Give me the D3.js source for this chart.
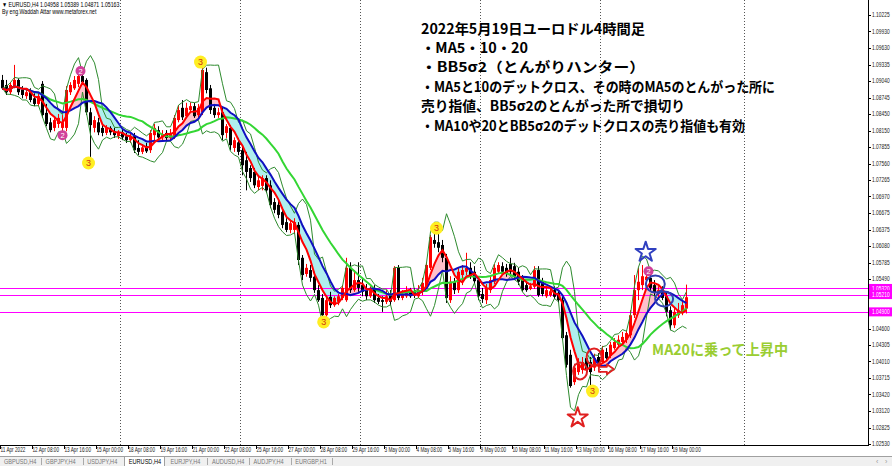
<!DOCTYPE html>
<html><head><meta charset="utf-8">
<script src="https://cdn.jsdelivr.net/npm/d3@7"></script>
<style>body{margin:0;background:#fff;}svg{display:block;}</style>
</head><body><svg id="c" width="892" height="466"></svg>
<script>
// ---------------- DATA (EURUSD H4, 11 Apr 2022 - 19 May 2022) ----------------
const open = [
1.0906,1.0897,1.0884,1.0895,1.0906,1.0888,1.0877,1.0884,1.0873,1.0863,
1.0899,1.0847,1.0830,1.0820,1.0827,1.0820,1.0820,1.0884,1.0891,1.0899,
1.0913,1.0906,1.0848,1.0820,1.0830,1.0820,1.0811,1.0820,1.0814,1.0805,
1.0812,1.0805,1.0798,1.0805,1.0784,1.0777,1.0787,1.0780,1.0807,1.0816,
1.0803,1.0811,1.0802,1.0805,1.0834,1.0856,1.0841,1.0852,1.0859,1.0843,
1.0848,1.0920,1.0891,1.0856,1.0843,1.0848,1.0811,1.0820,1.0784,1.0794,
1.0780,1.0762,1.0748,1.0741,1.0714,1.0716,1.0730,1.0717,1.0687,1.0682,
1.0669,1.0651,1.0637,1.0637,1.0646,1.0587,1.0558,1.0565,1.0553,1.0529,
1.0515,1.0484,1.0517,1.0502,1.0508,1.0515,1.0511,1.0569,1.0529,1.0547,
1.0538,1.0529,1.0518,1.0533,1.0515,1.0511,1.0508,1.0522,1.0511,1.0569,
1.0515,1.0518,1.0526,1.0526,1.0518,1.0526,1.0536,1.0569,1.0619,1.0615,
1.0610,1.0587,1.0511,1.0544,1.0529,1.0556,1.0562,1.0569,1.0562,1.0547,
1.0522,1.0511,1.0529,1.0544,1.0562,1.0572,1.0569,1.0576,1.0572,1.0562,
1.0551,1.0538,1.0531,1.0535,1.0565,1.0544,1.0518,1.0520,1.0529,1.0524,
1.0511,1.0448,1.0413,1.0364,1.0382,1.0386,1.0407,1.0400,1.0390,1.0409,
1.0400,1.0418,1.0411,1.0425,1.0431,1.0436,1.0440,1.0448,1.0484,1.0529,
1.0538,1.0547,1.0551,1.0538,1.0522,1.0529,1.0518,1.0493,1.0466,1.0484,
1.0490,1.04958];
const high = [
1.0915,1.0906,1.0902,1.0933,1.0909,1.0895,1.0891,1.0891,1.0882,1.0884,
1.0904,1.0863,1.0838,1.0841,1.0845,1.0843,1.0895,1.0902,1.0913,1.0919,
1.0917,1.0909,1.0856,1.0841,1.0838,1.0825,1.0825,1.0823,1.0820,1.0816,
1.0818,1.0811,1.0811,1.0811,1.0798,1.0791,1.0793,1.0816,1.0827,1.0823,
1.0816,1.0816,1.0818,1.0843,1.0861,1.0870,1.0865,1.0866,1.0865,1.0863,
1.0938,1.0928,1.0897,1.0863,1.0856,1.0856,1.0827,1.0825,1.0803,1.0802,
1.0787,1.0777,1.0753,1.0748,1.0732,1.0735,1.0735,1.0726,1.0694,1.0691,
1.0676,1.0658,1.0655,1.0658,1.0651,1.0592,1.0576,1.0574,1.0562,1.0538,
1.0522,1.0518,1.0526,1.0518,1.0522,1.0538,1.0587,1.0579,1.0565,1.0579,
1.0551,1.0540,1.0536,1.0538,1.0522,1.0518,1.0529,1.0529,1.0572,1.0574,
1.0529,1.0536,1.0533,1.0533,1.0538,1.0551,1.0579,1.0628,1.0640,1.0633,
1.0619,1.0594,1.0554,1.0551,1.0569,1.0574,1.0596,1.0579,1.0572,1.0553,
1.0533,1.0540,1.0554,1.0576,1.0579,1.0579,1.0576,1.0587,1.0578,1.0569,
1.0556,1.0544,1.0542,1.0572,1.0572,1.0551,1.0535,1.0533,1.0536,1.0529,
1.0517,1.0454,1.0422,1.0397,1.0407,1.0409,1.0413,1.0409,1.0415,1.0416,
1.0429,1.0425,1.0436,1.0443,1.0448,1.0454,1.0457,1.0493,1.0556,1.0569,
1.0574,1.0556,1.0556,1.0547,1.0536,1.0536,1.0524,1.0500,1.0497,1.0506,
1.0511,1.05389];
const low = [
1.0888,1.0879,1.0879,1.0891,1.0879,1.0873,1.0872,1.0866,1.0859,1.0859,
1.0838,1.0823,1.0812,1.0814,1.0820,1.0814,1.0814,1.0879,1.0888,1.0893,
1.0899,1.0843,1.0768,1.0812,1.0807,1.0805,1.0807,1.0807,1.0802,1.0800,
1.0798,1.0793,1.0793,1.0775,1.0771,1.0773,1.0775,1.0775,1.0798,1.0798,
1.0798,1.0796,1.0796,1.0800,1.0830,1.0834,1.0838,1.0847,1.0838,1.0838,
1.0843,1.0882,1.0845,1.0838,1.0838,1.0798,1.0802,1.0780,1.0777,1.0771,
1.0735,1.0708,1.0723,1.0712,1.0708,1.0708,1.0703,1.0676,1.0667,1.0658,
1.0640,1.0633,1.0631,1.0630,1.0574,1.0547,1.0553,1.0544,1.0524,1.0508,
1.0475,1.0479,1.0497,1.0499,1.0502,1.0511,1.0508,1.0524,1.0526,1.0526,
1.0518,1.0511,1.0515,1.0506,1.0504,1.0490,1.0504,1.0502,1.0508,1.0511,
1.0511,1.0515,1.0515,1.0515,1.0515,1.0520,1.0533,1.0565,1.0605,1.0597,
1.0579,1.0506,1.0506,1.0522,1.0524,1.0538,1.0556,1.0549,1.0540,1.0511,
1.0506,1.0504,1.0524,1.0540,1.0558,1.0556,1.0553,1.0556,1.0547,1.0538,
1.0526,1.0526,1.0529,1.0531,1.0517,1.0518,1.0515,1.0517,1.0513,1.0506,
1.0440,1.0390,1.0354,1.0359,1.0377,1.0379,1.0381,1.0354,1.0384,1.0388,
1.0397,1.0404,1.0407,1.0422,1.0425,1.0431,1.0434,1.0443,1.0479,1.0511,
1.0529,1.0540,1.0526,1.0518,1.0515,1.0511,1.0482,1.0457,1.0461,1.0479,
1.0484,1.04871];
const close = [
1.0891,1.0884,1.0897,1.0906,1.0884,1.0879,1.0884,1.0870,1.0863,1.0877,
1.0843,1.0827,1.0816,1.0834,1.0838,1.0830,1.0888,1.0897,1.0906,1.0913,
1.0902,1.0848,1.0825,1.0834,1.0812,1.0811,1.0820,1.0812,1.0807,1.0812,
1.0803,1.0798,1.0805,1.0780,1.0777,1.0785,1.0778,1.0811,1.0820,1.0803,
1.0809,1.0802,1.0811,1.0838,1.0852,1.0839,1.0856,1.0859,1.0841,1.0856,
1.0924,1.0888,1.0852,1.0843,1.0848,1.0807,1.0823,1.0789,1.0798,1.0777,
1.0753,1.0741,1.0730,1.0717,1.0726,1.0730,1.0708,1.0682,1.0673,1.0664,
1.0646,1.0637,1.0649,1.0651,1.0583,1.0556,1.0569,1.0551,1.0529,1.0511,
1.0484,1.0511,1.0502,1.0515,1.0518,1.0533,1.0569,1.0529,1.0547,1.0533,
1.0526,1.0518,1.0529,1.0511,1.0508,1.0508,1.0518,1.0508,1.0569,1.0515,
1.0522,1.0526,1.0518,1.0520,1.0529,1.0542,1.0574,1.0624,1.0612,1.0605,
1.0587,1.0515,1.0544,1.0529,1.0562,1.0565,1.0569,1.0554,1.0545,1.0518,
1.0513,1.0533,1.0547,1.0569,1.0574,1.0562,1.0558,1.0562,1.0553,1.0544,
1.0529,1.0529,1.0536,1.0565,1.0520,1.0522,1.0529,1.0527,1.0517,1.0511,
1.0443,1.0395,1.0357,1.0390,1.0397,1.0400,1.0386,1.0382,1.0407,1.0393,
1.0422,1.0407,1.0431,1.0436,1.0440,1.0445,1.0452,1.0484,1.0529,1.0544,
1.0554,1.0553,1.0533,1.0524,1.0529,1.0515,1.0490,1.0466,1.0490,1.0493,
1.0502,1.05163];

const timeLabels = ["11 Apr 2022","12 Apr 08:00","13 Apr 16:00","15 Apr 00:00","18 Apr 08:00","19 Apr 16:00",
  "21 Apr 00:00","22 Apr 08:00","25 Apr 16:00","27 Apr 00:00","28 Apr 08:00","29 Apr 16:00","3 May 00:00",
  "4 May 08:00","5 May 16:00","9 May 00:00","10 May 08:00","11 May 16:00","13 May 00:00","16 May 08:00",
  "17 May 16:00","19 May 00:00"];
const priceTicks = ["1.10225","1.09930","1.09630","1.09335","1.09040","1.08745","1.08450","1.08150","1.07855",
  "1.07560","1.07265","1.06970","1.06675","1.06375","1.06080","1.05785","1.05490","1.04600","1.04305",
  "1.04010","1.03715","1.03420","1.03120","1.02825","1.02530"];
const hLinePrices = ["1.05320","1.05210","1.04900"];
const weekSeparators = [30, 60, 90, 120, 150, 186];
const signalMarks = [
  {bar:15, price:1.0807, label:"2"}, {bar:19.5, price:1.0922, label:"2"}, {bar:161.5, price:1.0563, label:"2"},
  {bar:21.5, price:1.0757, label:"3"}, {bar:49.5, price:1.0938, label:"3"}, {bar:80.3, price:1.0472, label:"3"},
  {bar:108.5, price:1.0640, label:"3"}, {bar:147.5, price:1.0348, label:"3"}];
const stars = [{bar:143.8, price:1.0300, color:"#e02020"}, {bar:160.8, price:1.0597, color:"#3040c0"}];
const rings = [
  {bar:144.4, price:1.0384, rx:7, ry:8.5, color:"#e02020"}, {bar:147.9, price:1.0409, rx:7.5, ry:8.5, color:"#e02020"},
  {bar:163.2, price:1.0540, rx:9.5, ry:8.5, color:"#3040b0"}, {bar:165.4, price:1.0513, rx:9, ry:7.5, color:"#3040b0"}];
const arrowMark = {bar:149.1, price:1.0387};
const tabs = ["GBPUSD,H4","GBPJPY,H4","USDJPY,H4","EURUSD,H4","EURJPY,H4","AUDUSD,H4","AUDJPY,H4","EURGBP,H1"];
const noteLines = [
  {t:"2022年5月19日ユーロドル4時間足", w:224},
  {t:"・MA5・10・20", w:107},
  {t:"・BB5σ2（とんがりハンター）", w:224},
  {t:"・MA5と10のデットクロス、その時のMA5のとんがった所に", w:354},
  {t:"売り指値、BB5σ2のとんがった所で損切り", w:264},
  {t:"・MA10や20とBB5σ2のデットクロスの売り指値も有効", w:324}];

// ---------------- DRAW ----------------
const svg = d3.select("#c");
const N = close.length;
const plotR = 868, plotB = 445;
const x = d3.scaleLinear().domain([0, N - 1]).range([2.5, 2.5 + 4 * (N - 1)]);
const y = d3.scaleLinear().domain([1.02530, 1.10225]).range([444, 15]);

function sma(arr, n) { return arr.map((v, i) => d3.mean(arr.slice(Math.max(0, i - n + 1), i + 1))); }
const ma5 = sma(close, 5), ma10 = sma(close, 10), ma20 = sma(close, 20);
const bbUp = [], bbLo = [];
close.forEach((v, i) => {
  const s = close.slice(Math.max(0, i - 4), i + 1), m = d3.mean(s);
  const sd = Math.sqrt(d3.mean(s.map(q => (q - m) * (q - m))));
  bbUp.push(m + 2 * sd); bbLo.push(m - 2 * sd);
});

svg.append("rect").attr("width", 892).attr("height", 466).attr("fill", "#fff");
const defs = svg.append("defs");
defs.append("clipPath").attr("id", "plot").append("rect").attr("x", 0).attr("y", 0).attr("width", plotR).attr("height", plotB);
const aboveArea = d3.area().x((d, i) => x(i)).y0(-50).y1((d, i) => y(ma10[i]));
const belowArea = d3.area().x((d, i) => x(i)).y0((d, i) => y(ma10[i])).y1(600);
defs.append("clipPath").attr("id", "above").append("path").attr("d", aboveArea(close));
defs.append("clipPath").attr("id", "below").append("path").attr("d", belowArea(close));

const plot = svg.append("g").attr("clip-path", "url(#plot)");

// weekly separators
plot.selectAll("line.sep").data(weekSeparators).join("line")
  .attr("x1", d => Math.round(x(d) - 2.5) + 0.5).attr("x2", d => Math.round(x(d) - 2.5) + 0.5)
  .attr("y1", 0).attr("y2", plotB).attr("stroke", "#555").attr("stroke-dasharray", "1,2");

// fill between MA5 and MA10
const between = d3.area().x((d, i) => x(i)).y0((d, i) => y(ma10[i])).y1((d, i) => y(ma5[i]));
plot.append("path").attr("d", between(close)).attr("fill", "#ffc0cb").attr("clip-path", "url(#above)");
plot.append("path").attr("d", between(close)).attr("fill", "#afeeee").attr("clip-path", "url(#below)");

// horizontal price lines
plot.selectAll("line.h").data(hLinePrices).join("line")
  .attr("x1", 0).attr("x2", plotR).attr("y1", d => Math.round(y(+d)) + 0.5).attr("y2", d => Math.round(y(+d)) + 0.5)
  .attr("stroke", "#ff00ff").attr("stroke-width", 1);

// candles
const idx = d3.range(N);
const col = i => close[i] >= open[i] ? "#ff0000" : "#000000";
plot.selectAll("line.wick").data(idx).join("line")
  .attr("x1", i => x(i)).attr("x2", i => x(i)).attr("y1", i => y(high[i])).attr("y2", i => y(low[i]))
  .attr("stroke", col).attr("stroke-width", 1);
plot.selectAll("rect.body").data(idx).join("rect")
  .attr("x", i => x(i) - 1.5).attr("width", 3)
  .attr("y", i => y(Math.max(open[i], close[i])))
  .attr("height", i => Math.max(1, Math.abs(y(open[i]) - y(close[i]))))
  .attr("fill", col);

// indicator lines
const lineGen = arr => d3.line().x((d, i) => x(i)).y((d, i) => y(arr[i]))(arr);
plot.append("path").attr("d", lineGen(bbUp)).attr("fill", "none").attr("stroke", "#2e8b2e").attr("stroke-width", 1);
plot.append("path").attr("d", lineGen(bbLo)).attr("fill", "none").attr("stroke", "#2e8b2e").attr("stroke-width", 1);
plot.append("path").attr("d", lineGen(ma20)).attr("fill", "none").attr("stroke", "#33d633").attr("stroke-width", 2);
plot.append("path").attr("d", lineGen(ma10)).attr("fill", "none").attr("stroke", "#1010c0").attr("stroke-width", 2);
plot.append("path").attr("d", lineGen(ma5)).attr("fill", "none").attr("stroke", "#ff0000").attr("stroke-width", 2);

// signal markers
const mk = plot.selectAll("g.mk").data(signalMarks).join("g")
  .attr("transform", d => `translate(${x(d.bar)},${y(d.price)})`);
mk.append("circle").attr("r", d => d.label === "3" ? 6.5 : 5)
  .attr("fill", d => d.label === "3" ? "#ffee22" : "#d0409a");
mk.append("text").text(d => d.label).attr("text-anchor", "middle").attr("dy", "0.35em")
  .attr("font-family", "Liberation Sans, Arial, sans-serif").attr("font-size", d => d.label === "3" ? 9 : 7.5)
  .attr("fill", d => d.label === "3" ? "#d03010" : "#ffffff");

// hand-drawn annotations
plot.selectAll("path.star").data(stars).join("path")
  .attr("d", d3.symbol().type(d3.symbolStar).size(125))
  .attr("transform", d => `translate(${x(d.bar)},${y(d.price)})`)
  .attr("fill", "none").attr("stroke", d => d.color).attr("stroke-width", 2).attr("stroke-linejoin", "round");
plot.selectAll("ellipse.ring").data(rings).join("ellipse")
  .attr("cx", d => x(d.bar)).attr("cy", d => y(d.price)).attr("rx", d => d.rx).attr("ry", d => d.ry)
  .attr("fill", "none").attr("stroke", d => d.color).attr("stroke-width", 2);
plot.append("path")
  .attr("transform", `translate(${x(arrowMark.bar)},${y(arrowMark.price)})`)
  .attr("d", "M0,-2.5 L8,-2.5 L8,-5 L15,0 L8,5 L8,2.5 L0,2.5 Z")
  .attr("fill", "none").attr("stroke", "#e02020").attr("stroke-width", 1.8).attr("stroke-linejoin", "round");
plot.append("text").text("MA20に乗って上昇中")
  .attr("x", x(162.4)).attr("y", y(1.0413))
  .attr("font-family", "Noto Sans CJK JP, sans-serif").attr("font-size", 15).attr("font-weight", "bold")
  .attr("fill", "#9acd32").attr("textLength", 136).attr("lengthAdjust", "spacingAndGlyphs");

// note text block
svg.append("g").selectAll("text").data(noteLines).join("text")
  .attr("x", 421).attr("y", (d, i) => 33.5 + i * 19.4).text(d => d.t)
  .attr("font-family", "Noto Sans CJK JP, sans-serif").attr("font-size", 14).attr("font-weight", "bold")
  .attr("fill", "#000").attr("textLength", d => d.w).attr("lengthAdjust", "spacingAndGlyphs");

// frame
svg.append("line").attr("x1", plotR + 0.5).attr("x2", plotR + 0.5).attr("y1", 0).attr("y2", plotB + 1).attr("stroke", "#000");
svg.append("line").attr("x1", 0).attr("x2", plotR + 1).attr("y1", plotB + 0.5).attr("y2", plotB + 0.5).attr("stroke", "#000");

function small(sel, fs) {
  return sel.attr("font-family", "Liberation Sans, Arial, sans-serif").attr("font-size", fs);
}
// price axis
const pa = svg.append("g");
pa.selectAll("line").data(priceTicks).join("line")
  .attr("x1", plotR).attr("x2", plotR + 3).attr("y1", d => Math.round(y(+d)) + 0.5).attr("y2", d => Math.round(y(+d)) + 0.5)
  .attr("stroke", "#000");
small(pa.selectAll("text").data(priceTicks).join("text"), 6.5)
  .attr("transform", d => `translate(872,${y(+d) + 2.3}) scale(0.75,1)`).text(d => d).attr("fill", "#222");
// magenta price labels
const ml = svg.append("g").selectAll("g").data(hLinePrices).join("g")
  .attr("transform", d => `translate(${plotR + 1},${y(+d)})`);
ml.append("rect").attr("x", 0).attr("y", -4.5).attr("width", 23).attr("height", 9).attr("fill", "#ff00ff");
small(ml.append("text"), 6.5).attr("transform", "translate(3,2.3) scale(0.75,1)").text(d => d).attr("fill", "#fff");

// time axis
const ta = svg.append("g");
ta.selectAll("line").data(timeLabels).join("line")
  .attr("x1", (d, k) => Math.round(x(8 * k) - 2.5) + 0.5).attr("x2", (d, k) => Math.round(x(8 * k) - 2.5) + 0.5)
  .attr("y1", plotB).attr("y2", plotB + 4).attr("stroke", "#000");
small(ta.selectAll("text").data(timeLabels).join("text"), 6.5)
  .attr("transform", (d, k) => `translate(${x(8 * k) - 2},452) scale(0.72,1)`).text(d => d).attr("fill", "#222");

// header
small(svg.append("text"), 6.5).attr("transform", "translate(2,7) scale(0.8,1)")
  .text("▼ EURUSD,H4  " + [open[N-1], high[N-1], low[N-1], close[N-1]].map(v => v.toFixed(5)).join(" ")).attr("fill", "#000");
small(svg.append("text"), 6.5).attr("transform", "translate(2,14) scale(0.8,1)")
  .text("By eng.Waddah Attar  www.metaforex.net").attr("fill", "#000");

// tab bar
svg.append("rect").attr("x", 0).attr("y", 456).attr("width", 892).attr("height", 10).attr("fill", "#f0f0f0");
svg.append("line").attr("x1", 0).attr("x2", 892).attr("y1", 456.5).attr("y2", 456.5).attr("stroke", "#a0a0a0");
svg.append("rect").attr("x", 124.5).attr("y", 456.5).attr("width", 40).attr("height", 10).attr("fill", "#fff").attr("stroke", "#a0a0a0");
const tb = svg.append("g");
small(tb.selectAll("text").data(tabs).join("text"), 7)
  .attr("transform", (d, k) => `translate(${4 + k * 41.6},463.5) scale(0.8,1)`).text(d => d)
  .attr("fill", (d, k) => k === 3 ? "#000" : "#777");
tb.selectAll("line").data(tabs.filter((d, k) => k !== 2 && k !== 3)).join("line")
  .attr("x1", (d) => { const k = tabs.indexOf(d); return Math.round(4 + k * 41.6 + 37) + 0.5; })
  .attr("x2", (d) => { const k = tabs.indexOf(d); return Math.round(4 + k * 41.6 + 37) + 0.5; })
  .attr("y1", 458).attr("y2", 465).attr("stroke", "#aaa");
small(svg.append("text"), 7).attr("x", 876).attr("y", 463.5).text("‹").attr("fill", "#999");
small(svg.append("text"), 7).attr("x", 885).attr("y", 463.5).text("›").attr("fill", "#999");
</script></body></html>
